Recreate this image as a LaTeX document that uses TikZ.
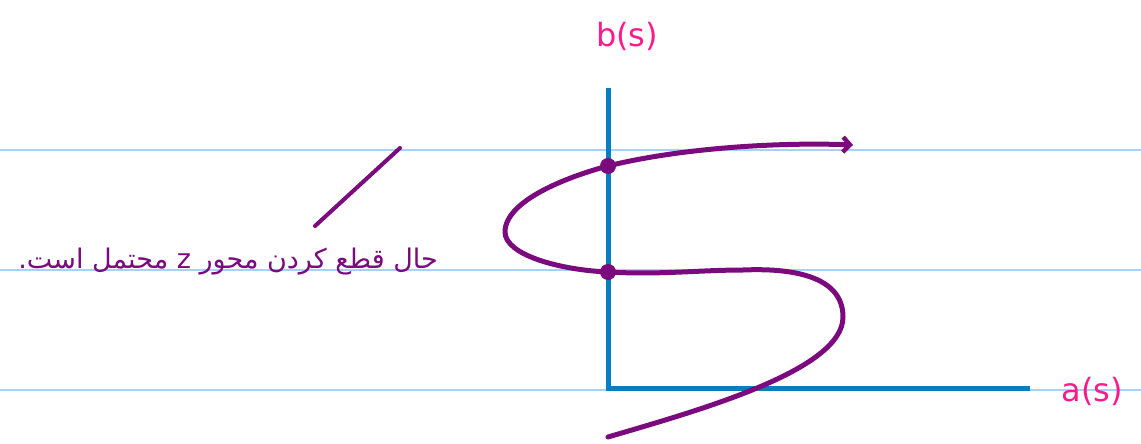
\documentclass[tikz,border=0pt]{standalone}
\usepackage{fontspec}
\setmainfont{DejaVu Sans}
\newfontfamily\arabicfont[Script=Arabic]{DejaVu Sans}
\TeXXeTstate=1
\usetikzlibrary{arrows.meta}
\definecolor{rule}{HTML}{A6D2FA}
\definecolor{axis}{HTML}{0A7DBE}
\definecolor{curvec}{HTML}{7A0A7E}
\definecolor{labelc}{HTML}{FF1A8C}
\begin{document}
\begin{tikzpicture}[x=1pt,y=-1pt,
  ruleline/.style={rule,line width=1.3pt},
  axisline/.style={axis,line width=5pt},
  curveline/.style={curvec,line width=5pt,line cap=round,line join=round},
  axlabel/.style={labelc,font=\fontsize{32}{34}\selectfont,inner sep=0pt},
  dotpt/.style={circle,fill=curvec,inner sep=0pt,minimum size=16pt},
  note/.style={curvec,font=\arabicfont\fontsize{27}{29}\selectfont,inner sep=0pt}]
\useasboundingbox (0,0) rectangle (1141,444);
% ruled lines
\coordinate (r1a) at (0,150); \coordinate (r1b) at (1141,150);
\coordinate (r2a) at (0,270); \coordinate (r2b) at (1141,270);
\coordinate (r3a) at (0,390); \coordinate (r3b) at (1141,390);
\draw[ruleline] (r1a) -- (r1b);
\draw[ruleline] (r2a) -- (r2b);
\draw[ruleline] (r3a) -- (r3b);
% axes
\coordinate (ytop) at (608,88);
\coordinate (origin) at (608,388);
\coordinate (xend) at (1030,388);
\draw[axisline,line join=miter] (ytop) -- (origin) -- (xend);
% labels
\node[axlabel] (blab) at (627,36) {b(s)};
\node[axlabel] (alab) at (1092,391) {a(s)};
% curve
\coordinate (cstart) at (608,437);
\coordinate (cright) at (843,317);
\coordinate (ctop) at (743,270);
\coordinate (cend) at (853,145);
\node[dotpt] (d1) at (608,272) {};
\node[dotpt] (d2) at (608,166) {};
\coordinate (cleft) at (505,232);
\draw[curveline,-{Straight Barb[length=7pt,width=15pt,line width=4.5pt]}]
  (cstart) .. controls (700,410) and (843,370) .. (cright)
  .. controls (843,275) and (790,268) .. (ctop)
  .. controls (700,270) and (660,275) .. (d1.center)
  .. controls (560,270) and (505,255) .. (cleft)
  .. controls (505,200) and (570,176) .. (d2.center)
  .. controls (680,148) and (780,142) .. (cend);
% handwritten note
\node[note,anchor=east] (txt) at (438,262) {\beginR حال قطع کردن محور z محتمل است.\endR};
\coordinate (s1) at (400,148);
\coordinate (s2) at (315,226);
\draw[curveline,line width=4pt] (s1) -- (s2);
\end{tikzpicture}
\end{document}
